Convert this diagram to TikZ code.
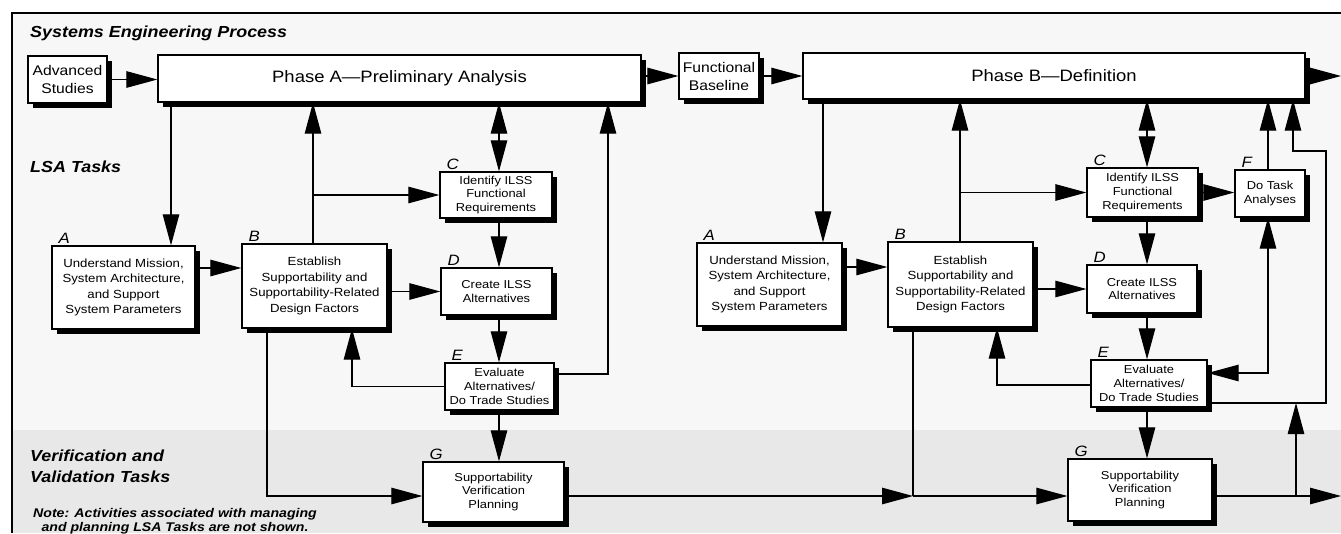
\documentclass[tikz,border=0pt]{standalone}
\usepackage{fontspec}
\setmainfont{Liberation Sans}[FakeStretch=1.12]
\usetikzlibrary{arrows.meta,shadows}
\tikzset{
  box/.style={draw, line width=1.3pt, fill=white, align=center, inner sep=0pt,
    font=\fontsize{11.5}{13.8}\selectfont,
    drop shadow={shadow xshift=4.5pt, shadow yshift=-4.5pt, fill=black, opacity=1}},
  bigbox/.style={box, font=\fontsize{11.8}{15.5}\selectfont},
  midbox/.style={box, font=\fontsize{14}{18}\selectfont},
  phase/.style={box, font=\fontsize{16.5}{20}\selectfont},
  conn/.style={line width=1.1pt},
  arr/.style={conn, -{Triangle[length=31pt,width=16.5pt]}},
  darr/.style={conn, {Triangle[length=31pt,width=16.5pt]}-{Triangle[length=31pt,width=16.5pt]}},
  tag/.style={font=\fontsize{15}{15}\selectfont\itshape, anchor=south west, inner sep=0pt},
  lane/.style={font=\fontsize{16}{21}\selectfont\bfseries\itshape, anchor=west, align=left, inner sep=0pt},
  notetext/.style={font=\fontsize{12.6}{14.5}\selectfont\bfseries\itshape, anchor=north west, align=center, inner sep=0pt},
}
\begin{document}
\begin{tikzpicture}[x=1pt,y=-1pt]
\useasboundingbox (0,0) rectangle (1341,533);
\clip (0,0) rectangle (1341,533);
% background
\fill[white] (0,0) rectangle (1341,533);
\fill[black!3] (12,13) rectangle (1341,430);
\fill[black!9] (12,430) rectangle (1341,533);
\draw[line width=1.5pt] (12,533) -- (12,13) -- (1341,13);

% lane labels
\node[lane] (lsys) at (30,33) {Systems Engineering Process};
\node[lane] (llsa) at (30,167) {LSA Tasks};
\node[lane] (lvv) at (30,466) {Verification and\\Validation Tasks};
\node[notetext] (note) at (33,508) {Note: Activities associated with managing\\and planning LSA Tasks are not shown.};

% top row
\node[midbox, minimum width=79pt, minimum height=47pt] (adv) at (67.5,79.5) {Advanced\\Studies};
\node[phase, minimum width=483pt, minimum height=47pt] (phA) at (399.5,78.5) {Phase A—Preliminary Analysis};
\node[midbox, minimum width=80pt, minimum height=46pt] (fb) at (719,76) {Functional\\Baseline};
\node[phase, minimum width=502pt, minimum height=46pt] (phB) at (1054,76) {Phase B—Definition};

% Phase A tasks
\node[bigbox, minimum width=143pt, minimum height=83pt] (Aa) at (123.5,287.5) {Understand Mission,\\System Architecture,\\and Support\\System Parameters};
\node[bigbox, minimum width=145pt, minimum height=84pt] (Ba) at (314.5,286) {Establish\\Supportability and\\Supportability-Related\\Design Factors};
\node[box, minimum width=112pt, minimum height=46pt] (Ca) at (496,195) {Identify ILSS\\Functional\\Requirements};
\node[box, minimum width=111pt, minimum height=47pt] (Da) at (496.5,291.5) {Create ILSS\\Alternatives};
\node[box, minimum width=109pt, minimum height=47pt] (Ea) at (499.5,386.5) {Evaluate\\Alternatives/\\Do Trade Studies};
\node[box, minimum width=141pt, minimum height=60pt] (Ga) at (493.5,492) {Supportability\\Verification\\Planning};

% Phase B tasks
\node[bigbox, minimum width=145pt, minimum height=83pt] (Ab) at (769.5,284.5) {Understand Mission,\\System Architecture,\\and Support\\System Parameters};
\node[bigbox, minimum width=145pt, minimum height=85pt] (Bb) at (960.5,284.5) {Establish\\Supportability and\\Supportability-Related\\Design Factors};
\node[box, minimum width=111pt, minimum height=49pt] (Cb) at (1142.5,192.5) {Identify ILSS\\Functional\\Requirements};
\node[box, minimum width=70pt, minimum height=47pt] (F) at (1270,193.5) {Do Task\\Analyses};
\node[box, minimum width=110pt, minimum height=48pt] (Db) at (1142,289) {Create ILSS\\Alternatives};
\node[box, minimum width=116pt, minimum height=47pt] (Eb) at (1149,383.5) {Evaluate\\Alternatives/\\Do Trade Studies};
\node[box, minimum width=144pt, minimum height=62pt] (Gb) at (1140,490) {Supportability\\Verification\\Planning};

% letter tags
\foreach \n/\t in {Aa/A, Ba/B, Ca/C, Da/D, Ea/E, Ga/G, Ab/A, Bb/B, Cb/C, Db/D, Eb/E, Gb/G, F/F}
  \node[tag] (t\n) at ([xshift=7pt,yshift=2pt]\n.north west) {\t};

% helper coordinates
\coordinate (xa1) at (171,0);
\coordinate (xa2) at (313,0);
\coordinate (xa3) at (499,0);
\coordinate (xa4) at (608,0);
\coordinate (xa5) at (352,0);
\coordinate (xa6) at (267,0);
\coordinate (xb1) at (823,0);
\coordinate (xb2) at (960,0);
\coordinate (xb3) at (1147,0);
\coordinate (xb4) at (997,0);
\coordinate (xb5) at (913,0);
\coordinate (xb6) at (1268,0);
\coordinate (xb7) at (1293,0);
\coordinate (xb8) at (1326,0);
\coordinate (xb9) at (1296,0);
\coordinate (xR) at (1341,0);
\coordinate (yAB) at (0,268);
\coordinate (yAB2) at (0,267);
\coordinate (yE1) at (0,374);
\coordinate (yG) at (0,496);
\coordinate (yEB) at (0,385);
\coordinate (yEF) at (0,373);
\coordinate (yEL) at (0,403);
\coordinate (yTop) at (0,151);

% top row connectors
\draw[arr] (adv.east) -- (adv.east -| phA.west);
\draw[arr] (fb.west -| phA.east) -- (fb.west);
\draw[arr] (fb.east) -- (fb.east -| phB.west);
\draw[arr] (phB.east) -- (phB.east -| xR);

% Phase A connectors
\draw[arr] (phA.south -| xa1) -- (Aa.north -| xa1);
\draw[arr] (Aa.east |- yAB) -- (Ba.west |- yAB);
\draw[arr] (Ba.north -| xa2) -- (phA.south -| xa2);
\coordinate (jBCa) at (xa2 |- Ca.west);
\draw[arr] (jBCa) -- (Ca.west);
\draw[arr] (Ba.east |- Da.west) -- (Da.west);
\draw[darr] (phA.south -| xa3) -- (Ca.north -| xa3);
\draw[arr] (Ca.south -| xa3) -- (Da.north -| xa3);
\draw[arr] (Da.south -| xa3) -- (Ea.north -| xa3);
\draw[arr] (Ea.south -| xa3) -- (Ga.north -| xa3);
\draw[arr] (Ea.east |- yE1) -| (phA.south -| xa4);
\draw[arr] (Ea.west) -| (Ba.south -| xa5);
\draw[arr] (Ba.south -| xa6) |- (Ga.west |- yG);
\coordinate (jB) at (xb5 |- yG);
\draw[arr] (Ga.east |- yG) -- (jB);
\draw[conn] (Bb.south -| xb5) -- (jB);
\draw[arr] (jB) -- (Gb.west |- yG);

% Phase B connectors
\draw[arr] (phB.south -| xb1) -- (Ab.north -| xb1);
\draw[arr] (Ab.east |- yAB2) -- (Bb.west |- yAB2);
\draw[arr] (Bb.north -| xb2) -- (phB.south -| xb2);
\coordinate (jBCb) at (xb2 |- Cb.west);
\draw[arr] (jBCb) -- (Cb.west);
\draw[arr] (Cb.east) -- (F.west |- Cb.east);
\draw[arr] (Bb.east |- Db.west) -- (Db.west);
\draw[darr] (phB.south -| xb3) -- (Cb.north -| xb3);
\draw[arr] (Cb.south -| xb3) -- (Db.north -| xb3);
\draw[arr] (Db.south -| xb3) -- (Eb.north -| xb3);
\draw[arr] (Eb.south -| xb3) -- (Gb.north -| xb3);
\draw[arr] (Eb.west |- yEB) -| (Bb.south -| xb4);
\draw[arr] (F.north -| xb6) -- (phB.south -| xb6);
\draw[darr] (Eb.east |- yEF) -| (F.south -| xb6);
\coordinate (jTop) at (xb8 |- yTop);
\draw[arr] (Eb.east |- yEL) -| (jTop) -| (phB.south -| xb7);
\coordinate (jG) at (xb9 |- yG);
\draw[arr] (Gb.east |- yG) -- (xR |- yG);
\draw[arr] (jG) -- (xb9 |- yEL);
\end{tikzpicture}
\end{document}
